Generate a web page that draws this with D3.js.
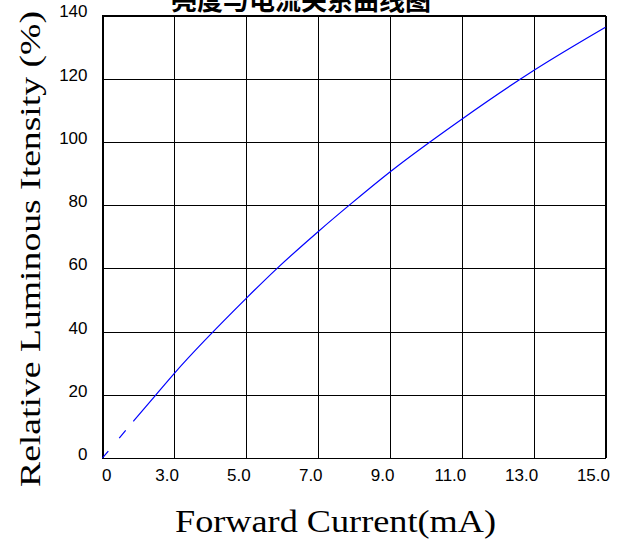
<!DOCTYPE html>
<html>
<head>
<meta charset="utf-8">
<script src="https://cdn.jsdelivr.net/npm/d3@7"></script>
<style>
  html, body { margin: 0; padding: 0; background: #fff; }
  svg { display: block; }
</style>
</head>
<body>
<script>
// Forward current (mA) vs relative luminous intensity (%)
const currentTicks = [0, 3, 5, 7, 9, 11, 13, 15];
const currentTickLabels = ["0", "3.0", "5.0", "7.0", "9.0", "11.0", "13.0", "15.0"];
const intensityTicks = [0, 20, 40, 60, 80, 100, 120, 140];
const intensityTickLabels = ["0", "20", "40", "60", "80", "100", "120", "140"];

const current = [0, 1.31, 2.23, 3, 5, 5.86, 7, 7.87, 9, 11, 13, 15];
const intensity = [0, 11.8, 20, 26.8, 50.5, 60, 71.6, 80, 90.5, 107.2, 122.6, 136.3];

const title = "亮度与电流关系曲线图";
const xTitle = "Forward Current(mA)";
const yTitle = "Relative Luminous Itensity (%)";

const W = 640, H = 539;
const plot = { left: 102.5, right: 605.5, top: 15.5, bottom: 458 };

const svg = d3.select("body").append("svg")
  .attr("width", W).attr("height", H);

// Grid columns are evenly spaced even though the labelled currents are not
const colStep = (plot.right - plot.left) / (currentTicks.length - 1);
const x = d3.scaleLinear()
  .domain(currentTicks)
  .range(currentTicks.map((_, i) => plot.left + i * colStep));
const y = d3.scaleLinear().domain([0, 140]).range([plot.bottom, plot.top]);

const labelFont = "'Liberation Sans', Arial, sans-serif";

// vertical grid + bottom labels
const xAxis = svg.append("g")
  .attr("transform", `translate(0,${plot.bottom})`)
  .call(d3.axisBottom(x)
    .tickValues(currentTicks)
    .tickSize(-(plot.bottom - plot.top))
    .tickFormat((d, i) => currentTickLabels[i]));
xAxis.select(".domain").remove();
xAxis.selectAll("line").attr("stroke", "#000").attr("shape-rendering", "crispEdges");
xAxis.selectAll("text")
  .attr("font-family", labelFont).attr("font-size", 17).attr("fill", "#000")
  .attr("text-anchor", (d, i) => i === 0 ? "start" : "end")
  .attr("x", (d, i) => i === 0 ? -1 : 4)
  .attr("y", 23).attr("dy", 0);

// horizontal grid + left labels
const yAxis = svg.append("g")
  .attr("transform", `translate(${plot.left},0)`)
  .call(d3.axisLeft(y)
    .tickValues(intensityTicks)
    .tickSize(-(plot.right - plot.left))
    .tickFormat((d, i) => intensityTickLabels[i]));
yAxis.select(".domain").remove();
yAxis.selectAll("line").attr("stroke", "#000").attr("shape-rendering", "crispEdges");
yAxis.selectAll("text")
  .attr("font-family", labelFont).attr("font-size", 17).attr("fill", "#000")
  .attr("text-anchor", "end")
  .attr("x", -15).attr("dy", "0.32em")
  .attr("transform", "translate(0,-4)");

// plot border
svg.append("rect")
  .attr("x", x(0)).attr("y", y(140))
  .attr("width", x(15) - x(0)).attr("height", y(0) - y(140))
  .attr("fill", "none").attr("stroke", "#000").attr("shape-rendering", "crispEdges");

// intensity curve (broken near the origin)
const line = d3.line()
  .x(i => x(current[i]))
  .y(i => y(intensity[i]))
  .curve(d3.curveMonotoneX);
svg.append("path")
  .attr("d", line(d3.range(current.length)))
  .attr("fill", "none")
  .attr("stroke", "#0000ff")
  .attr("stroke-width", 1.2)
  .attr("stroke-dasharray", "9,17,10,12,3000");

// title
svg.append("text")
  .attr("x", 301).attr("y", 10)
  .attr("text-anchor", "middle")
  .attr("font-family", "'Noto Sans CJK SC', sans-serif")
  .attr("font-weight", "bold").attr("font-size", 26)
  .text(title);

// axis titles
svg.append("text")
  .attr("x", 175).attr("y", 532)
  .attr("font-family", "'Liberation Serif', serif")
  .attr("font-size", 31)
  .attr("textLength", 321).attr("lengthAdjust", "spacingAndGlyphs")
  .text(xTitle);

svg.append("text")
  .attr("transform", "translate(40,487) rotate(-90)")
  .attr("font-family", "'Liberation Serif', serif")
  .attr("font-size", 29)
  .attr("textLength", 476).attr("lengthAdjust", "spacingAndGlyphs")
  .text(yTitle);
</script>
</body>
</html>
